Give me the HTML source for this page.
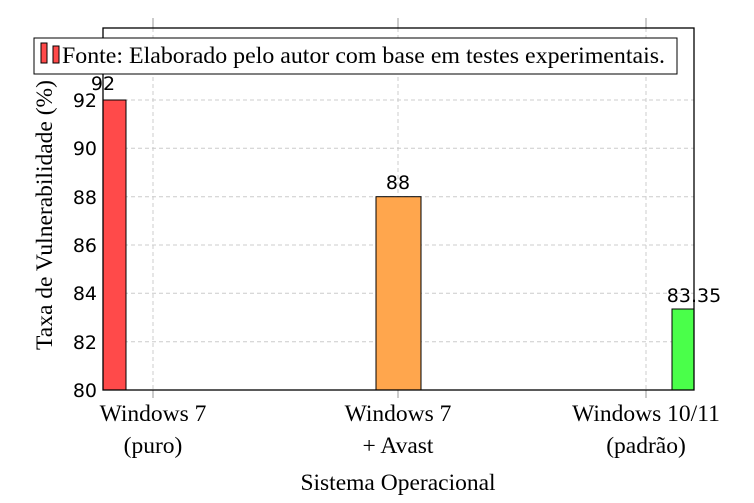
<!DOCTYPE html>
<html><head><meta charset="utf-8"><style>body{margin:0;background:#fff}</style></head><body>
<svg width="754" height="498" xmlns="http://www.w3.org/2000/svg">
<rect width="754" height="498" fill="#fff"/>
<g stroke="#ccc" stroke-dasharray="4,3" stroke-width="1">
<line x1="103" x2="694" y1="100" y2="100"/><line x1="103" x2="694" y1="148.3" y2="148.3"/>
<line x1="103" x2="694" y1="196.7" y2="196.7"/><line x1="103" x2="694" y1="245" y2="245"/>
<line x1="103" x2="694" y1="293.3" y2="293.3"/><line x1="103" x2="694" y1="341.7" y2="341.7"/>
<line x1="153" x2="153" y1="28" y2="390"/><line x1="398" x2="398" y1="28" y2="390"/><line x1="646" x2="646" y1="28" y2="390"/>
</g>
<g stroke="#999"><line x1="153" x2="153" y1="18" y2="28"/><line x1="398" x2="398" y1="18" y2="28"/><line x1="646" x2="646" y1="18" y2="28"/>
<line x1="153" x2="153" y1="390" y2="398"/><line x1="398" x2="398" y1="390" y2="398"/><line x1="646" x2="646" y1="390" y2="398"/></g>
<rect x="103" y="100" width="23" height="290" fill="#ff4a4a" stroke="#000"/>
<rect x="376" y="196.7" width="45" height="193.3" fill="#ffa64d" stroke="#000"/>
<rect x="672" y="309" width="22" height="81" fill="#4aff4a" stroke="#000"/>
<rect x="103" y="28" width="591" height="362" fill="none" stroke="#000" stroke-width="1.3"/>
<g font-family="DejaVu Sans, sans-serif" font-size="19" fill="#000">
<g text-anchor="end"><text x="97" y="397">80</text><text x="97" y="349">82</text><text x="97" y="300">84</text><text x="97" y="252">86</text><text x="97" y="204">88</text><text x="97" y="155">90</text><text x="97" y="107">92</text></g>
<g text-anchor="middle"><text x="103" y="90">92</text><text x="398" y="189">88</text><text x="694" y="302">83.35</text></g>
</g>
<rect x="34" y="38" width="643" height="36" fill="#fff" stroke="#000"/>
<rect x="41" y="43" width="6" height="20" fill="#ff4a4a" stroke="#000"/>
<rect x="53" y="46" width="6" height="17" fill="#ff4a4a" stroke="#000"/>
<g font-family="Liberation Serif, serif" font-size="23.5" fill="#000">
<text x="62" y="63" textLength="603" lengthAdjust="spacingAndGlyphs">Fonte: Elaborado pelo autor com base em testes experimentais.</text>
<g text-anchor="middle"><text x="153" y="421">Windows 7</text><text x="153" y="453">(puro)</text>
<text x="398" y="421">Windows 7</text><text x="398" y="453">+ Avast</text>
<text x="646" y="421">Windows 10/11</text><text x="646" y="453">(padrão)</text>
<text x="398" y="490">Sistema Operacional</text>
<text transform="translate(52,215) rotate(-90)">Taxa de Vulnerabilidade (%)</text></g>
</g>
</svg>
</body></html>
